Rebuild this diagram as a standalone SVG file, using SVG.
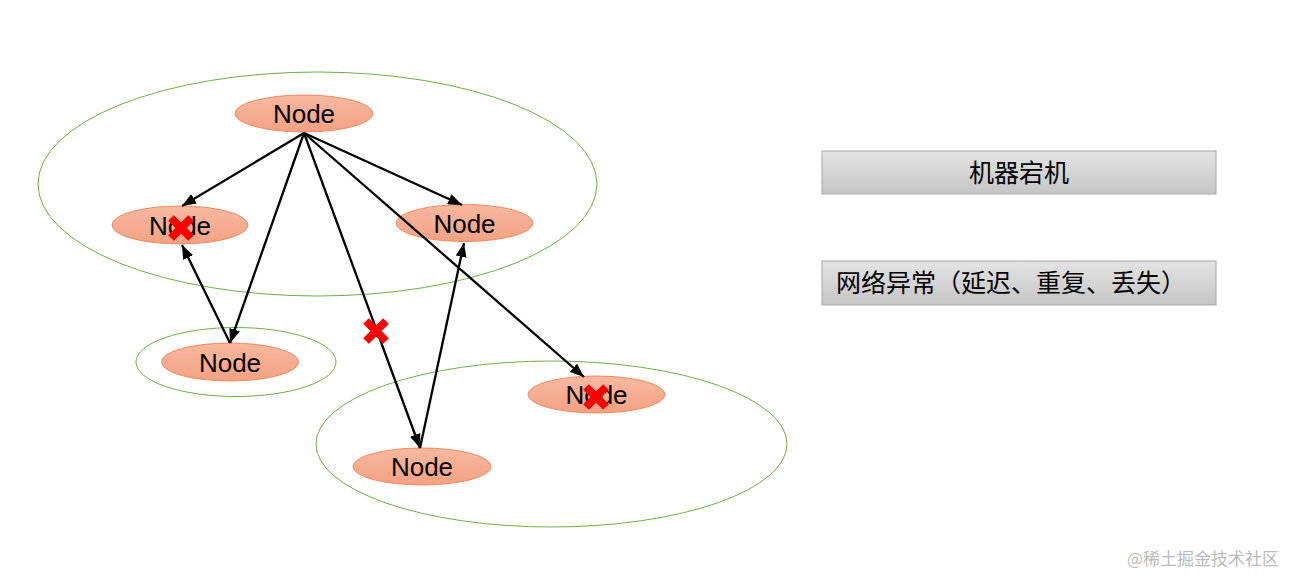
<svg xmlns="http://www.w3.org/2000/svg" width="1292" height="576" viewBox="0 0 1292 576">
<defs>
<linearGradient id="ng" x1="0" y1="0" x2="0" y2="1"><stop offset="0" stop-color="#F7B9A0"/><stop offset="1" stop-color="#F3A183"/></linearGradient>
<linearGradient id="bg" x1="0" y1="0" x2="0" y2="1"><stop offset="0" stop-color="#E4E4E4"/><stop offset="1" stop-color="#C4C4C4"/></linearGradient>
<marker id="ah" viewBox="0 0 14 11" refX="14" refY="5.5" markerWidth="14" markerHeight="11" markerUnits="userSpaceOnUse" orient="auto"><path d="M0,0 L14,5.5 L0,11 Z" fill="#000"/></marker>
<g id="xm"><path d="M-10,-10 L10,10 M10,-10 L-10,10" stroke="#FF0000" stroke-width="8"/></g>
</defs>
<style>
.grp{fill:none;stroke:#70AD47;stroke-width:1}
.nd{fill:url(#ng);stroke:#EE8A5E;stroke-width:1}
.nt{font-family:"Liberation Sans",Arial,sans-serif;font-size:26px;fill:#000;text-anchor:middle}
.cn{stroke:#000;stroke-width:2.3;fill:none;marker-end:url(#ah)}
.lb{fill:url(#bg);stroke:#A8A8A8;stroke-width:1}
.lt{font-family:"Noto Sans CJK SC","Liberation Sans",sans-serif;font-size:25px;fill:#000}
</style>
<rect width="1292" height="576" fill="#fff"/>
<g id="groups">
<ellipse class="grp" cx="317.5" cy="184" rx="279.5" ry="112"/>
<ellipse class="grp" cx="236" cy="362" rx="100" ry="34.5"/>
<ellipse class="grp" cx="551.5" cy="444" rx="235.5" ry="83"/>
</g>
<g id="node-top"><ellipse class="nd" cx="304" cy="113.5" rx="69" ry="18.5"/><text class="nt" x="304" y="123">Node</text></g>
<g id="node-left"><ellipse class="nd" cx="180" cy="225" rx="68" ry="19"/><text class="nt" x="180" y="234.5">Node</text><use href="#xm" x="181" y="228"/></g>
<g id="node-right"><ellipse class="nd" cx="464.5" cy="223" rx="68.5" ry="18.5"/><text class="nt" x="464.5" y="232.5">Node</text></g>
<g id="node-small"><ellipse class="nd" cx="230" cy="362" rx="68.5" ry="19"/><text class="nt" x="230" y="371.5">Node</text></g>
<g id="node-bl"><ellipse class="nd" cx="422" cy="466.5" rx="69" ry="18.5"/><text class="nt" x="422" y="476">Node</text></g>
<g id="node-br"><ellipse class="nd" cx="596.5" cy="394.5" rx="68.5" ry="18.5"/><text class="nt" x="596.5" y="404">Node</text><use href="#xm" x="596" y="397"/></g>
<g id="connectors">
<line class="cn" x1="304" y1="133" x2="182" y2="206"/>
<line class="cn" x1="304" y1="133" x2="230" y2="343"/>
<line class="cn" x1="304" y1="133" x2="420" y2="448"/>
<line class="cn" x1="304" y1="133" x2="462" y2="205"/>
<line class="cn" x1="304" y1="133" x2="584" y2="377"/>
<line class="cn" x1="230" y1="343" x2="182" y2="245"/>
<line class="cn" x1="420" y1="448" x2="464" y2="243"/>
<use href="#xm" x="376" y="331"/>
</g>
<g id="legend-1"><rect class="lb" x="822" y="151" width="394" height="43"/><text class="lt" x="1019" y="182" text-anchor="middle">机器宕机</text></g>
<g id="legend-2"><rect class="lb" x="822" y="261" width="394" height="44"/><text class="lt" x="836" y="292">网络异常（延迟、重复、丢失）</text></g>
<text x="1127" y="565" font-family="'Noto Sans CJK SC',sans-serif" font-size="17" fill="#BBBBBB">@稀土掘金技术社区</text>
</svg>
